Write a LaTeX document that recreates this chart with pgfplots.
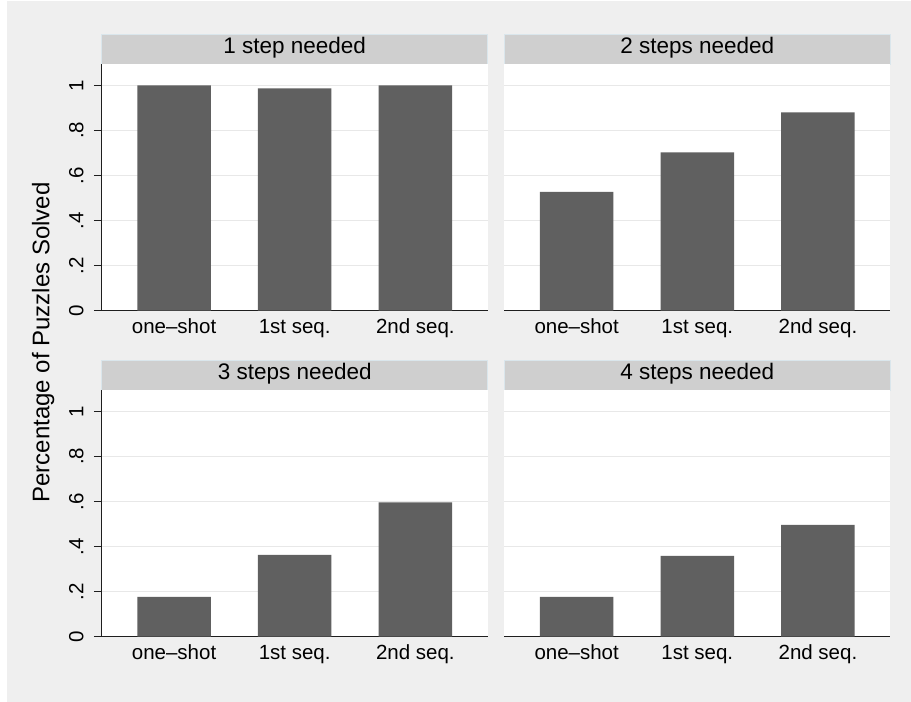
\documentclass[border=0pt]{standalone}
\usepackage{pgfplots}
\pgfplotsset{compat=1.18}
\usepackage{fontspec}
\setmainfont{Liberation Sans}

\definecolor{bgc}{RGB}{239,239,239}
\definecolor{stripc}{RGB}{207,207,207}
\definecolor{stripedge}{RGB}{218,230,236}
\definecolor{barc}{RGB}{96,96,96}
\definecolor{gridc}{RGB}{232,232,232}
\definecolor{axisc}{RGB}{30,30,30}

\pgfplotsset{
  panel/.style={
    scale only axis, width=386pt, height=246.8pt,
    anchor=south west,
    xmin=0.4, xmax=3.6, ymin=0, ymax=1.095,
    axis x line*=bottom, axis y line*=left,
    axis line style={axisc, line width=1.2pt},
    axis background/.style={fill=white},
    xtick={1,2,3}, xticklabels={one–shot, 1st seq., 2nd seq.},
    xtick style={draw=none},
    ytick={0,0.2,0.4,0.6,0.8,1}, yticklabels={0,.2,.4,.6,.8,1},
    ymajorgrids, grid style={gridc, line width=1.2pt},
    tick align=outside, major tick length=7.7pt,
    ytick style={axisc, line width=1.1pt},
    ticklabel style={font=\fontsize{20.5}{24}\selectfont},
    xticklabel style={anchor=base, inner sep=0pt, yshift=-15.1pt},
    yticklabel style={xshift=-10.7pt, rotate=90, anchor=base, inner sep=0pt},
    ybar, bar width=0.61,
  },
  rightpanel/.style={
    y axis line style={draw=none}, ytick style={draw=none}, yticklabels={},
  },
}

\begin{document}
\begin{tikzpicture}
\fill[white] (0pt,0pt) rectangle (911pt,702pt);
\fill[bgc] (6.5pt,0pt) rectangle (911pt,701pt);

% panel strips
\foreach \px/\py/\txt in {101.7/638/1 step needed, 504.3/638/2 steps needed,
                          101.7/312/3 steps needed, 504.3/312/4 steps needed}{
  \filldraw[fill=stripc, draw=stripedge, line width=0.8pt] (\px pt,\py pt) rectangle ++(386pt,29.6pt);
  \node[anchor=base, inner sep=0pt, font=\fontsize{22.5}{27}\selectfont] at (\px pt+193pt,\py pt+10pt) {\txt};
}

\node[rotate=90, anchor=base, inner sep=0pt, font=\fontsize{24}{28}\selectfont]
  at (49.5pt,359.5pt) {Percentage of Puzzles Solved};

\begin{axis}[panel, at={(101.7pt,391.3pt)}]
\addplot[fill=barc, draw=none] coordinates {(1,1.000) (2,0.986) (3,1.000)};
\end{axis}

\begin{axis}[panel, rightpanel, at={(504.3pt,391.3pt)}]
\addplot[fill=barc, draw=none] coordinates {(1,0.527) (2,0.702) (3,0.880)};
\end{axis}

\begin{axis}[panel, at={(101.7pt,65.3pt)}]
\addplot[fill=barc, draw=none] coordinates {(1,0.177) (2,0.363) (3,0.596)};
\end{axis}

\begin{axis}[panel, rightpanel, at={(504.3pt,65.3pt)}]
\addplot[fill=barc, draw=none] coordinates {(1,0.177) (2,0.359) (3,0.496)};
\end{axis}
\end{tikzpicture}
\end{document}
